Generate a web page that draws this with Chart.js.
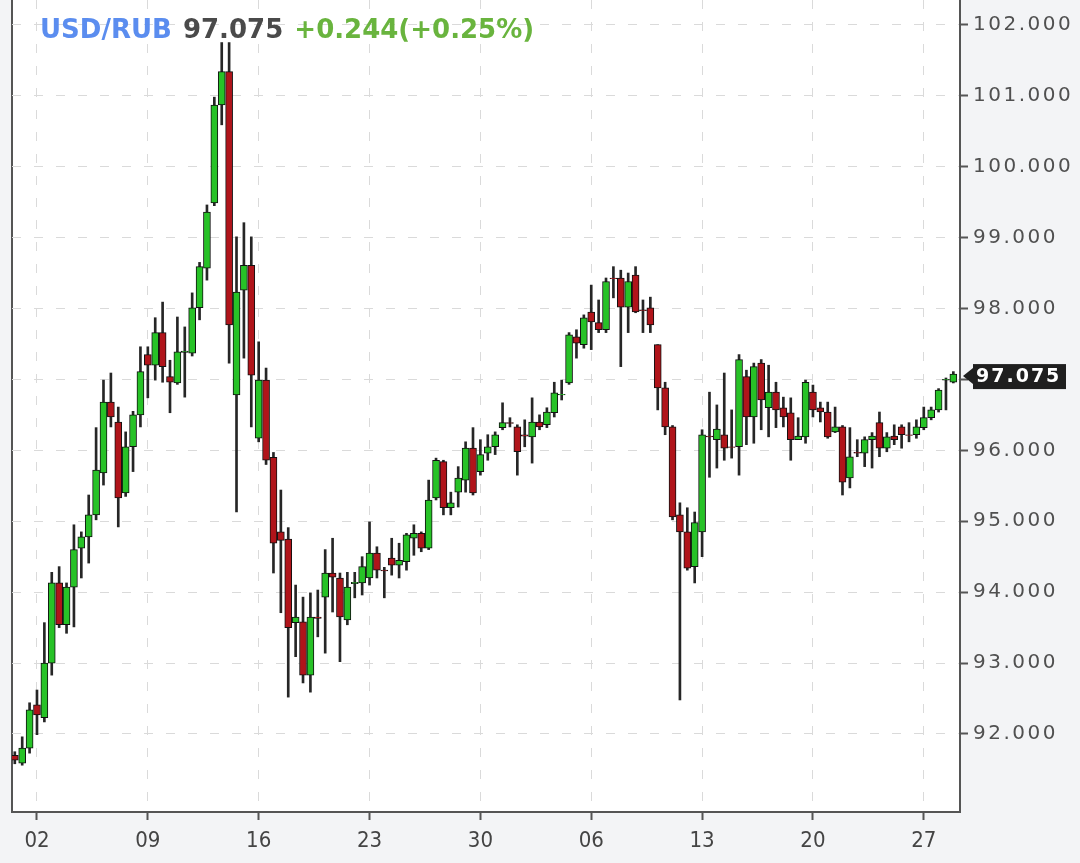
<!DOCTYPE html>
<html>
<head>
<meta charset="utf-8">
<script src="https://cdn.jsdelivr.net/npm/chart.js@4"></script>
<style>
  html, body { margin: 0; padding: 0; background: #f3f4f6; }
  #wrap { position: relative; width: 1080px; height: 863px; }
  #header {
    position: absolute; left: 40px; top: 16px;
    font: bold 26px 'DejaVu Sans', sans-serif; line-height: 26px;
    white-space: pre; word-spacing: 2px;
  }
</style>
</head>
<body>
<div id="wrap">
  <canvas id="usdrub" width="1080" height="863"></canvas>
  <div id="header"><span style="color:#5b8def">USD/RUB</span> <span style="color:#4a4a4a">97.075</span> <span style="color:#69b43e">+0.244(+0.25%)</span></div>
</div>

<script>
  // candles (15 candles a week, index 0 = first candle)
  const open  = [91.70, 91.59, 91.80, 92.41, 92.23, 93.00, 94.13, 93.54, 94.07, 94.62,
                 94.78, 95.09, 95.68, 96.68, 96.40, 95.40, 96.05, 96.50, 97.35, 97.20,
                 97.66, 97.04, 96.95, 97.38, 97.37, 98.01, 98.57, 99.49, 100.87, 101.34,
                 96.78, 98.26, 98.61, 96.17, 96.99, 95.90, 94.85, 94.75, 93.57, 93.58,
                 92.83, 93.65, 93.93, 94.27, 94.20, 93.61, 94.12, 94.13, 94.20, 94.55,
                 94.31, 94.48, 94.38, 94.43, 94.76, 94.83, 94.62, 95.33, 95.84, 95.19,
                 95.41, 95.58, 96.03, 95.70, 95.96, 96.05, 96.32, 96.39, 96.33, 96.22,
                 96.19, 96.40, 96.36, 96.53, 96.78, 96.95, 97.60, 97.49, 97.95, 97.80,
                 97.70, 98.43, 98.43, 98.02, 98.47, 97.98, 98.01, 97.49, 96.88, 96.33,
                 95.09, 94.85, 94.36, 94.85, 96.20, 96.15, 96.22, 96.05, 96.05, 97.04,
                 96.47, 97.23, 96.60, 96.82, 96.60, 96.53, 96.15, 96.19, 96.82, 96.60,
                 96.54, 96.26, 96.33, 95.61, 95.97, 95.96, 96.15, 96.39, 96.03, 96.20,
                 96.33, 96.22, 96.22, 96.32, 96.46, 96.57, 96.99, 96.96];
  const high  = [91.75, 91.96, 92.44, 92.62, 93.57, 94.28, 94.36, 94.13, 94.95, 94.85,
                 95.37, 96.32, 96.99, 97.09, 96.61, 96.26, 96.55, 97.46, 97.46, 97.87,
                 98.09, 97.27, 97.88, 97.74, 98.22, 98.65, 99.46, 100.98, 101.75, 101.75,
                 99.01, 99.21, 99.01, 97.53, 97.16, 95.97, 95.44, 94.91, 94.10, 93.93,
                 93.99, 94.03, 94.60, 94.76, 94.27, 94.28, 94.28, 94.50, 94.99, 94.64,
                 94.35, 94.76, 94.69, 94.83, 94.95, 94.85, 95.58, 95.89, 95.86, 95.41,
                 95.77, 96.12, 96.32, 96.15, 96.22, 96.26, 96.67, 96.46, 96.36, 96.43,
                 96.74, 96.50, 96.60, 96.96, 96.99, 97.66, 97.70, 97.91, 98.33, 98.12,
                 98.43, 98.59, 98.54, 98.50, 98.59, 98.12, 98.16, 97.49, 96.96, 96.35,
                 95.26, 95.19, 95.13, 96.29, 96.82, 96.64, 97.09, 96.57, 97.35, 97.13,
                 97.23, 97.28, 97.20, 96.96, 96.75, 96.74, 96.46, 96.99, 96.92, 96.68,
                 96.68, 96.61, 96.35, 96.32, 96.15, 96.19, 96.25, 96.54, 96.25, 96.36,
                 96.36, 96.39, 96.43, 96.61, 96.61, 96.87, 97.02, 97.11];
  const low   = [91.58, 91.56, 91.73, 91.99, 92.17, 92.83, 93.50, 93.42, 93.51, 94.20,
                 94.41, 95.02, 95.51, 96.33, 94.92, 95.35, 95.70, 96.33, 96.74, 96.99,
                 96.96, 96.53, 96.93, 96.75, 97.33, 97.84, 98.40, 99.45, 100.59, 97.23,
                 95.13, 97.30, 96.33, 96.12, 95.80, 94.27, 93.71, 92.52, 93.09, 92.72,
                 92.59, 93.37, 93.14, 93.72, 93.02, 93.54, 93.92, 93.96, 94.10, 94.20,
                 93.92, 94.24, 94.20, 94.31, 94.52, 94.57, 94.60, 95.30, 95.09, 95.09,
                 95.20, 95.41, 95.37, 95.65, 95.86, 95.94, 96.29, 96.33, 95.65, 96.05,
                 95.82, 96.29, 96.32, 96.47, 96.71, 96.93, 97.30, 97.44, 97.42, 97.66,
                 97.66, 98.15, 97.18, 97.66, 97.94, 97.66, 97.66, 96.57, 96.22, 95.02,
                 92.48, 94.31, 94.13, 94.50, 95.62, 95.75, 95.86, 95.89, 95.65, 96.08,
                 96.10, 96.29, 96.19, 96.32, 96.33, 95.86, 96.15, 96.10, 96.47, 96.40,
                 96.17, 96.25, 95.37, 95.47, 95.91, 95.77, 95.75, 95.91, 95.98, 96.08,
                 96.03, 96.12, 96.17, 96.29, 96.43, 96.54, 96.57, 96.95];
  const close = [91.63, 91.80, 92.34, 92.27, 93.00, 94.13, 93.54, 94.07, 94.60, 94.78,
                 95.09, 95.72, 96.68, 96.47, 95.33, 96.05, 96.50, 97.11, 97.20, 97.66,
                 97.18, 96.96, 97.39, 97.40, 98.01, 98.59, 99.36, 100.87, 101.34, 97.77,
                 98.23, 98.61, 97.06, 96.99, 95.86, 94.69, 94.73, 93.50, 93.65, 92.83,
                 93.65, 93.63, 94.27, 94.21, 93.65, 94.07, 94.14, 94.36, 94.55, 94.31,
                 94.30, 94.38, 94.45, 94.81, 94.83, 94.62, 95.30, 95.86, 95.19, 95.26,
                 95.61, 96.03, 95.40, 95.94, 96.05, 96.22, 96.39, 96.38, 95.98, 96.20,
                 96.40, 96.33, 96.54, 96.81, 96.79, 97.63, 97.51, 97.87, 97.81, 97.70,
                 98.38, 98.42, 98.02, 98.38, 97.95, 97.97, 97.77, 96.88, 96.33, 95.06,
                 94.85, 94.34, 94.98, 96.22, 96.19, 96.30, 96.03, 96.04, 97.28, 96.47,
                 97.18, 96.71, 96.82, 96.57, 96.47, 96.15, 96.20, 96.96, 96.57, 96.54,
                 96.19, 96.33, 95.55, 95.91, 95.96, 96.15, 96.20, 96.03, 96.19, 96.15,
                 96.22, 96.21, 96.33, 96.46, 96.57, 96.85, 97.00, 97.075];

  // x axis: week labels and the candle they sit on
  const tickLabels = ['02', '09', '16', '23', '30', '06', '13', '20', '27'];
  const tickIndex  = [3, 18, 33, 48, 63, 78, 93, 108, 123];
  // y axis ticks
  const yTicks = [92, 93, 94, 95, 96, 97, 98, 99, 100, 101, 102];

  const upColor = '#27c227';
  const downColor = '#b0141a';

  // building the two datasets: wicks (low..high) and bodies (open..close)
  const wicks = open.map((o, i) => ({ x: i, y: [low[i], high[i]] }));
  const bodies = open.map((o, i) => ({ x: i, y: [o, close[i]] }));
  const bodyColors = open.map((o, i) => close[i] >= o ? upColor : downColor);

  // y labels in the picture are widely spaced
  const BaseLinear = Chart.LinearScale || Chart.registry.getScale('linear');
  class SpacedLinear extends BaseLinear {
    drawLabels(area) {
      this.ctx.save();
      this.ctx.letterSpacing = '2.5px';
      super.drawLabels(area);
      this.ctx.restore();
    }
  }
  SpacedLinear.id = 'spacedLinear';
  SpacedLinear.defaults = {};
  Chart.register(SpacedLinear);

  // white plot area + left frame line
  const framePlugin = {
    id: 'frame',
    beforeDraw(chart) {
      const { ctx, chartArea: a } = chart;
      ctx.save();
      ctx.fillStyle = '#ffffff';
      ctx.fillRect(a.left, a.top, a.right - a.left, a.bottom - a.top);
      ctx.strokeStyle = '#555555';
      ctx.lineWidth = 2;
      ctx.beginPath();
      ctx.moveTo(a.left, a.top);
      ctx.lineTo(a.left, a.bottom);
      ctx.stroke();
      ctx.restore();
    }
  };

  // last price tag on the right axis
  const lastPricePlugin = {
    id: 'lastPrice',
    afterDraw(chart) {
      const { ctx, chartArea: a } = chart;
      const last = close[close.length - 1];
      const y = chart.scales.y.getPixelForValue(last) + 2;
      const x = a.right;
      ctx.save();
      ctx.fillStyle = '#1f1f1f';
      ctx.beginPath();
      ctx.moveTo(x + 3, y);
      ctx.lineTo(x + 13, y - 8);
      ctx.lineTo(x + 13, y + 8);
      ctx.closePath();
      ctx.fill();
      ctx.fillRect(x + 13, y - 12, 93, 25);
      ctx.fillStyle = '#ffffff';
      ctx.font = "bold 19px 'DejaVu Sans', sans-serif";
      ctx.letterSpacing = '2px';
      ctx.textBaseline = 'middle';
      ctx.fillText(last.toFixed(3), x + 16, y + 1);
      ctx.restore();
    }
  };

  const ctx = document.getElementById('usdrub');

  new Chart(ctx, {
    type: 'bar',
    data: {
      datasets: [{
        label: 'body',
        data: bodies,
        backgroundColor: bodyColors,
        borderColor: '#111111',
        borderWidth: 1,
        borderSkipped: false,
        barThickness: 7,
        grouped: false,
        order: 0
      }, {
        label: 'wick',
        data: wicks,
        backgroundColor: '#262626',
        borderWidth: 0,
        barThickness: 2,
        grouped: false,
        order: 1
      }]
    },
    options: {
      responsive: false,
      animation: false,
      layout: { padding: { left: 12, top: 0, right: 0, bottom: 0 } },
      plugins: {
        legend: { display: false },
        tooltip: { enabled: false }
      },
      scales: {
        x: {
          type: 'linear',
          offset: false,
          min: -0.38,
          max: 127.9,
          afterBuildTicks: s => { s.ticks = tickIndex.map(v => ({ value: v })); },
          afterFit: s => { s.height = 51; s.paddingLeft = 0; s.paddingRight = 0; },
          ticks: {
            autoSkip: false,
            maxRotation: 0,
            padding: 8,
            color: '#444444',
            font: { family: "'Liberation Sans Narrow', 'DejaVu Sans Condensed', sans-serif", size: 22 },
            callback: (v, i) => tickLabels[i]
          },
          grid: { offset: false, color: '#dadada', lineWidth: 1, tickLength: 8, tickColor: '#555555', tickWidth: 2 },
          border: { display: true, color: '#555555', width: 2, dash: [9, 13] }
        },
        y: {
          type: 'spacedLinear',
          position: 'right',
          min: 90.9,
          max: 102.35,
          afterBuildTicks: s => { s.ticks = yTicks.map(v => ({ value: v })); },
          afterFit: s => { s.width = 120; s.paddingTop = 0; s.paddingBottom = 0; },
          ticks: {
            padding: 5,
            color: '#505050',
            font: { family: "'DejaVu Sans', sans-serif", size: 20 },
            callback: v => v === 97 ? '' : v.toFixed(3)
          },
          grid: { color: '#dadada', lineWidth: 1, tickLength: 8, tickColor: '#555555', tickWidth: 2 },
          border: { display: true, color: '#555555', width: 2, dash: [9, 13] }
        }
      }
    },
    plugins: [framePlugin, lastPricePlugin]
  });
</script>
</body>
</html>
